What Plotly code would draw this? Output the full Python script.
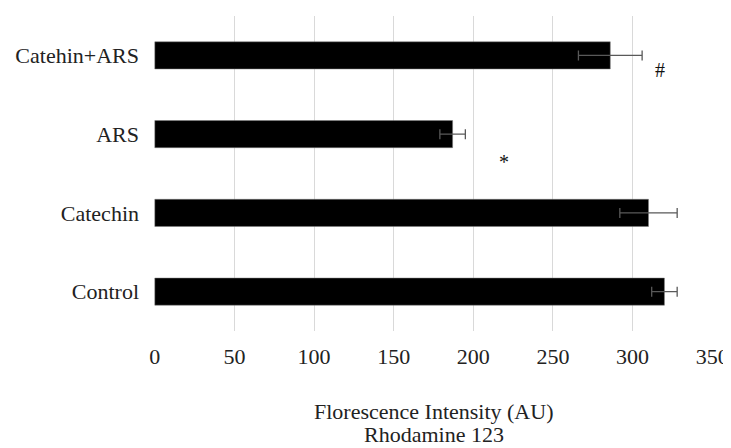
import plotly.graph_objects as go

categories = ["Control", "Catechin", "ARS", "Catehin+ARS"]
values = [320, 310, 187, 286]
errors = [8, 18, 8, 20]
x_ticks = [0, 50, 100, 150, 200, 250, 300, 350]
marks = ["#", "*"]
mark_x = [317, 219]
mark_y = [2.82, 1.64]
title_lines = ["Florescence Intensity (AU)", "Rhodamine 123"]

FONT = "Liberation Serif, Times New Roman, serif"

fig = go.Figure()
fig.add_trace(go.Bar(
    y=categories, x=values, orientation="h",
    marker=dict(color="black", line=dict(color="#7f7f7f", width=0.5)),
    width=0.345,
    error_x=dict(type="data", array=errors, visible=True,
                 color="#595959", thickness=1.3, width=5),
    showlegend=False,
))

for t, xv, yv in zip(marks, mark_x, mark_y):
    fig.add_annotation(x=xv, y=yv, xref="x", yref="y", text=t, showarrow=False,
                       font=dict(family=FONT, size=20, color="#111"))

# plot area: bottom at fig y 323, height 315
for line, yp in zip(title_lines, [-0.256, -0.329]):
    fig.add_annotation(x=0.5, y=yp, xref="paper", yref="paper", text=line,
                       showarrow=False, yanchor="middle",
                       font=dict(family=FONT, size=22, color="#222"))

fig.update_layout(
    width=723, height=440,
    margin=dict(l=146, r=18, t=8, b=117, autoexpand=False),
    paper_bgcolor="white", plot_bgcolor="white",
    font=dict(family=FONT, size=22, color="#222"),
    bargap=0.655,
    xaxis=dict(range=[-0.5, 350.5], tickvals=x_ticks, showgrid=True,
               gridcolor="#d9d9d9", gridwidth=1, zeroline=False,
               showline=False, ticks="", tickfont=dict(size=22),
               automargin=False, ticklabelstandoff=10),
    yaxis=dict(categoryorder="array", categoryarray=categories,
               range=[-0.5, 3.5], showgrid=False, zeroline=False,
               showline=False, ticks="", automargin=False,
               ticklabelstandoff=14, tickfont=dict(size=22)),
)

fig.write_html("out.html")
